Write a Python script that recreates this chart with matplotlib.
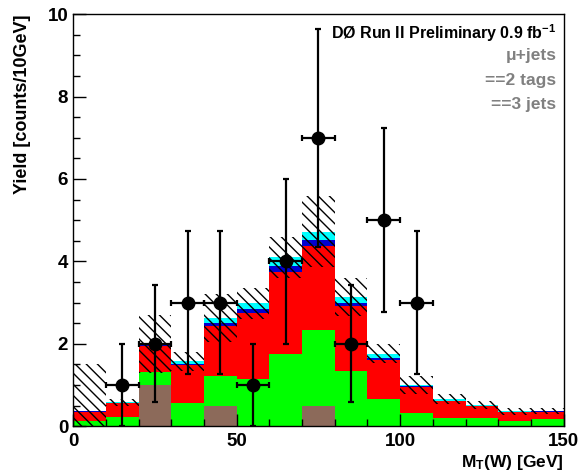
import numpy as np
import matplotlib
matplotlib.use("Agg")
import matplotlib.pyplot as plt
from matplotlib.ticker import MultipleLocator

plt.rcParams['font.family'] = ['Liberation Sans', 'DejaVu Sans']
plt.rcParams['font.weight'] = 'bold'
plt.rcParams['axes.labelweight'] = 'bold'
plt.rcParams['mathtext.fontset'] = 'custom'
plt.rcParams['mathtext.rm'] = 'Liberation Sans:bold'
plt.rcParams['mathtext.it'] = 'Liberation Sans:bold'
plt.rcParams['mathtext.bf'] = 'Liberation Sans:bold'
plt.rcParams['hatch.linewidth'] = 1.0

# bins of M_T(W), 10 GeV wide
edges = np.arange(0, 160, 10)

# stacked backgrounds (counts / 10 GeV), bottom to top
brown = [0, 0, 0.99, 0, 0.50, 0, 0, 0.50, 0, 0, 0, 0, 0, 0, 0]
green = [0.12, 0.23, 0.32, 0.56, 0.72, 1.14, 1.76, 1.84, 1.33, 0.65, 0.32, 0.20, 0.20, 0.12, 0.18]
red = [0.23, 0.32, 0.63, 0.92, 1.22, 1.60, 1.97, 2.03, 1.59, 0.96, 0.63, 0.40, 0.28, 0.22, 0.16]
blue = [0.01, 0.01, 0.02, 0.02, 0.06, 0.10, 0.16, 0.16, 0.08, 0.04, 0.02, 0.02, 0.02, 0.01, 0.02]
cyan = [0.01, 0.02, 0.04, 0.07, 0.12, 0.14, 0.21, 0.19, 0.13, 0.11, 0.03, 0.03, 0.02, 0.01, 0.01]

# uncertainty on total prediction
err = [1.13, 0.08, 0.70, 0.23, 0.58, 0.37, 0.50, 0.86, 0.46, 0.23, 0.21, 0.12, 0.10, 0.08, 0.07]

# data
data_x = [15, 25, 35, 45, 55, 65, 75, 85, 95, 105]
data_y = [1, 2, 3, 3, 1, 4, 7, 2, 5, 3]

fig = plt.figure(figsize=(5.8, 4.74), dpi=100)
ax = fig.add_axes([0.126, 0.101, 0.846, 0.869])

left = edges[:-1]
bottom = np.zeros(len(left))
for vals, col in [(brown, '#8c6a5a'), (green, '#00ff00'), (red, '#ff0000'),
                  (blue, '#0000d0'), (cyan, '#00ffff')]:
    vals = np.array(vals)
    ax.bar(left, vals, width=10, bottom=bottom, align='edge', color=col, linewidth=0)
    bottom = bottom + vals

total = bottom
err = np.array(err)
lo = np.clip(total - err, 0, None)
hi = total + err
ax.bar(left, hi - lo, width=10, bottom=lo, align='edge', fill=False,
       hatch='\\\\\\', edgecolor='black', linewidth=0)

ax.errorbar(data_x, data_y, yerr=np.sqrt(data_y), xerr=5, fmt='o', color='black',
            markersize=9, elinewidth=1.6, capsize=2, capthick=1.6)

ax.set_xlim(0, 150)
ax.set_ylim(0, 10)
ax.xaxis.set_major_locator(MultipleLocator(50))
ax.xaxis.set_minor_locator(MultipleLocator(10))
ax.yaxis.set_major_locator(MultipleLocator(2))
ax.yaxis.set_minor_locator(MultipleLocator(0.5))
ax.tick_params(which='both', direction='in', labelsize=13.5, width=1)
ax.tick_params(which='major', length=9)
ax.tick_params(which='minor', length=5)
ax.tick_params(axis='x', pad=5)
for s in ax.spines.values():
    s.set_linewidth(1)

ax.set_xlabel('M$_T$(W) [GeV]', fontsize=12.5, fontweight='bold', loc='right', labelpad=2)
ax.set_ylabel('Yield [counts/10GeV]', fontsize=13, fontweight='bold', loc='top', labelpad=12)

ax.text(0.985, 0.955, 'DØ Run II Preliminary 0.9 fb$^{-1}$', transform=ax.transAxes,
        ha='right', va='center', fontsize=11.5, color='black')
ax.text(0.985, 0.9, 'μ+jets', transform=ax.transAxes, ha='right', va='center',
        fontsize=12.5, color='#808080')
ax.text(0.985, 0.84, '==2 tags', transform=ax.transAxes, ha='right', va='center',
        fontsize=12.5, color='#808080')
ax.text(0.985, 0.78, '==3 jets', transform=ax.transAxes, ha='right', va='center',
        fontsize=12.5, color='#808080')

fig.savefig('out.png', dpi=100)
